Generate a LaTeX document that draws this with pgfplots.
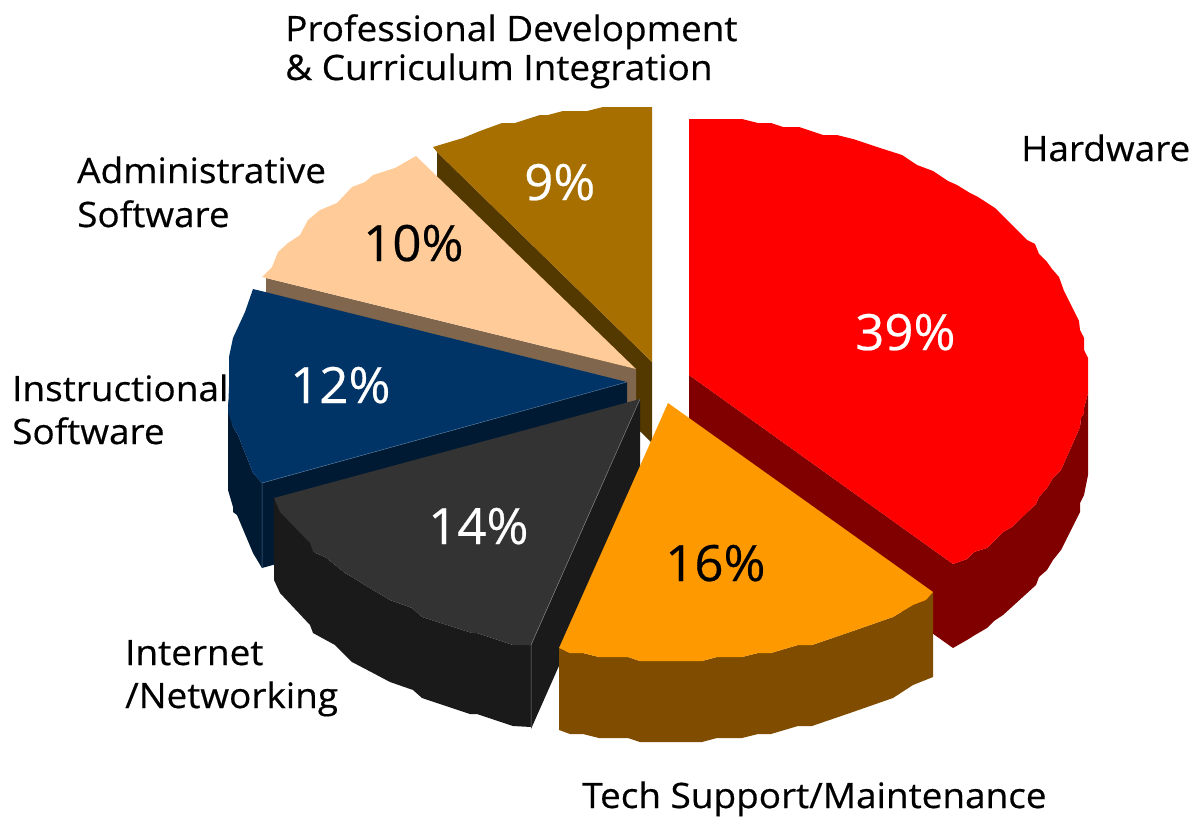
\documentclass[border=0pt]{standalone}
\usepackage{fontspec}
\setmainfont{Open Sans}
\newfontfamily\labfont[FakeStretch=1.055,FakeBold=0.45]{Open Sans}
\newfontfamily\pctfont[FakeStretch=1.02,FakeBold=0.45]{Open Sans}
\usepackage{pgfplots}
\pgfplotsset{compat=1.18}
\definecolor{hwTop}{HTML}{FF0000}
\definecolor{hwSide}{HTML}{800000}
\definecolor{tsTop}{HTML}{FF9900}
\definecolor{tsSide}{HTML}{804D00}
\definecolor{netTop}{HTML}{333333}
\definecolor{netSide}{HTML}{1A1A1A}
\definecolor{insTop}{HTML}{003366}
\definecolor{insSide}{HTML}{001A33}
\definecolor{admTop}{HTML}{FFCC99}
\definecolor{admSide}{HTML}{80664D}
\definecolor{pdTop}{HTML}{A66F00}
\definecolor{pdSide}{HTML}{533800}
\newcommand{\lab}[3]{\node[anchor=base west,inner sep=0pt,font=\labfont\fontsize{35}{35}\selectfont] at (axis cs:#1,#2) {#3};}
\newcommand{\pct}[4]{\node[anchor=base west,inner sep=0pt,text=#4,font=\pctfont\fontsize{50}{50}\selectfont] at (axis cs:#1,#2) {#3};}
\begin{document}
\begin{tikzpicture}
\path[use as bounding box] (0,0) rectangle (1196pt,817pt);
\begin{axis}[
    at={(0,0)}, anchor=south west,
    scale only axis, width=1196pt, height=817pt,
    xmin=0, xmax=1196, ymin=0, ymax=817,
    y dir=reverse, hide axis, clip=false,
    every axis plot/.append style={draw=none, forget plot},
]
% professional development slice
\addplot[fill=pdSide] coordinates {(437,152)(652,362)(652,443)(437,233)} --cycle;
\addplot[fill=pdTop] coordinates {(652,107)(652,362)(437,152)(433,147)(463,138)(480,131)(502,123)(515,123)(540,115)(548,115)(563,111)(587,111)(603,107)} --cycle;
% hardware slice
\addplot[fill=hwSide] coordinates {(689,375)(953,564)(953,648)(689,460)} --cycle;
\addplot[fill=hwSide] coordinates {(1088,393)(1084,408)(1084,413)(1081,418)(1080,427)(1061,470)(1053,478)(1047,488)(1039,497)(1036,504)(1012,527)(1003,532)(987,548)(974,552)(967,559)(953,564)(953,648)(967,640)(975,635)(987,628)(994,621)(1003,615)(1036,585)(1039,577)(1047,570)(1053,560)(1061,550)(1080,512)(1080,503)(1084,495)(1088,475)} --cycle;
\addplot[fill=hwTop] coordinates {(689,119)(742,119)(758,123)(771,123)(783,127)(799,127)(823,135)(837,135)(853,139)(877,147)(902,155)(917,165)(933,171)(948,181)(957,185)(970,193)(978,197)(995,208)(1027,240)(1035,244)(1039,254)(1047,262)(1052,269)(1059,277)(1064,291)(1079,321)(1080,330)(1084,338)(1084,350)(1088,358)(1088,393)(1084,408)(1084,413)(1081,418)(1080,427)(1061,470)(1053,478)(1047,488)(1039,497)(1036,504)(1012,527)(1003,532)(987,548)(974,552)(967,559)(953,564)(689,375)} --cycle;
% administrative software slice
\addplot[fill=admSide] coordinates {(266,278)(636,369)(636,452)(266,361)} --cycle;
\addplot[fill=admTop] coordinates {(416,156)(636,369)(262,277)(272,267)(278,252)(288,243)(300,235)(308,220)(320,210)(337,203)(352,187)(365,182)(373,175)(395,168)} --cycle;
% instructional software slice
\addplot[fill=insSide] coordinates {(627,382)(262,483)(262,568)(627,466)} --cycle;
\addplot[fill=insSide] coordinates {(228,400)(233,427)(238,435)(253,473)(262,483)(262,568)(253,553)(237,515)(233,512)(233,507)(228,490)} --cycle;
\addplot[fill=insTop] coordinates {(253,289)(627,382)(262,483)(253,473)(238,435)(233,427)(228,412)(229,387)(229,357)(233,338)(245,312)} --cycle;
% internet / networking slice
\addplot[fill=netSide] coordinates {(640,399)(640,483)(531,729)(531,645)} --cycle;
\addplot[fill=netSide] coordinates {(274,498)(280,512)(310,543)(313,552)(325,557)(345,573)(352,577)(373,590)(390,600)(412,608)(422,617)(472,633)(477,633)(513,645)(531,645)(531,727)(513,726)(477,714)(470,714)(422,698)(413,690)(390,682)(373,673)(352,662)(335,645)(313,633)(310,625)(280,593)(274,580)} --cycle;
\addplot[fill=netTop] coordinates {(640,399)(531,645)(513,645)(477,633)(472,633)(422,617)(412,608)(390,600)(373,590)(352,577)(345,573)(325,557)(313,552)(310,543)(280,512)(274,498)} --cycle;
% tech support slice
\addplot[fill=tsSide] coordinates {(933,592)(926,600)(913,605)(893,617)(850,632)(812,645)(798,645)(771,653)(758,653)(742,657)(717,657)(702,661)(640,661)(628,657)(599,657)(583,653)(570,653)(559,648)(559,730)(570,734)(583,734)(599,738)(628,738)(640,742)(702,742)(717,738)(742,738)(758,734)(771,734)(798,726)(812,726)(850,713)(893,698)(913,685)(933,677)} --cycle;
\addplot[fill=tsTop] coordinates {(668,403)(933,592)(926,600)(913,605)(893,617)(850,632)(812,645)(798,645)(771,653)(758,653)(742,657)(717,657)(702,661)(640,661)(628,657)(599,657)(583,653)(570,653)(559,648)} --cycle;
% seams
\addplot[draw=gray, line width=0.5pt] coordinates {(640,399)(531,645)(531,727)};
\addplot[draw=insTop!70!white, line width=0.5pt] coordinates {(627,382)(262,483)(262,568)};

\pct{855}{350}{39\%}{white}
\pct{524}{200}{9\%}{white}
\pct{363}{261}{10\%}{black}
\pct{290}{403}{12\%}{white}
\pct{428}{544}{14\%}{white}
\pct{665}{581}{16\%}{black}

\lab{285}{41}{Professional Development}
\lab{285}{80}{\& Curriculum Integration}
\lab{1021}{161}{Hardware}
\lab{77}{183}{Administrative}
\lab{77}{227}{Software}
\lab{12}{401}{Instructional}
\lab{12}{444}{Software}
\lab{125}{665}{Internet}
\lab{125}{708}{/Networking}
\lab{582}{808}{Tech Support/Maintenance}
\end{axis}
\end{tikzpicture}
\end{document}
